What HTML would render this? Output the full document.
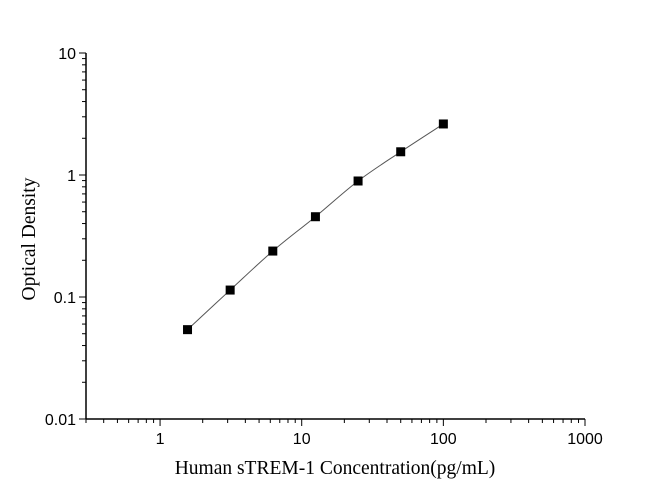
<!DOCTYPE html>
<html><head><meta charset="utf-8"><style>
body{margin:0;background:#fff;}
svg text{font-family:"Liberation Serif",serif;}
svg text.tick{font-family:"Liberation Sans",sans-serif;}
</style></head><body>
<svg id="chart" width="668" height="497" xmlns="http://www.w3.org/2000/svg">
<g id="axes"></g>
<path id="curve" fill="none" stroke="#555" stroke-width="1"/>
<g id="points"></g>
<text x="335" y="474" text-anchor="middle" font-size="19.5">Human sTREM-1 Concentration(pg/mL)</text>
<text transform="translate(35,239) rotate(-90)" text-anchor="middle" font-size="19.5">Optical Density</text>
</svg>
<script>
const concentrations=[1.5625,3.125,6.25,12.5,25,50,100];
const odValues=[0.054,0.114,0.238,0.455,0.893,1.55,2.62];
const xTickLabels=["1","10","100","1000"];
const yTickLabels=["0.01","0.1","1","10"];
const X0=86,X1=585,Y0=419,Y1=53;
const xMinLog=Math.log10(0.3),xMaxLog=3,yMinLog=-2,yMaxLog=1;
const sx=v=>X0+(Math.log10(v)-xMinLog)/(xMaxLog-xMinLog)*(X1-X0);
const sy=v=>Y0-(Math.log10(v)-yMinLog)/(yMaxLog-yMinLog)*(Y0-Y1);
const NS="http://www.w3.org/2000/svg";
const axes=document.getElementById('axes');
function mk(tag,attrs,parent){const e=document.createElementNS(NS,tag);for(const k in attrs)e.setAttribute(k,attrs[k]);parent.appendChild(e);return e;}
let l=mk('line',{x1:X0,y1:Y0,x2:X1,y2:Y0,stroke:'#000','stroke-width':1.5},axes);


l=mk('line',{x1:X0,y1:Y0,x2:X0,y2:Y1,stroke:'#000','stroke-width':1.5},axes);


for(let d=-1;d<=3;d++){for(let m=1;m<=9;m++){const v=m*Math.pow(10,d);if(v<0.3||v>1000)continue;const x=sx(v);const major=m===1;
const t=mk('line',{x1:x,y1:Y0,x2:x,y2:Y0+(major?7:4),stroke:'#000','stroke-width':1},axes);

}}
xTickLabels.forEach(s=>{const t=mk('text',{class:'tick',x:sx(+s),y:Y0+25,'text-anchor':'middle','font-size':16,fill:'#000'},axes);t.textContent=s;

});
for(let d=-2;d<=1;d++){for(let m=1;m<=9;m++){const v=m*Math.pow(10,d);if(v>10)continue;const y=sy(v);const major=m===1;
const t=mk('line',{x1:X0,y1:y,x2:X0-(major?7:4),y2:y,stroke:'#000','stroke-width':1},axes);

}}
yTickLabels.forEach(s=>{const t=mk('text',{class:'tick',x:X0-10,y:sy(+s)+6,'text-anchor':'end','font-size':16,fill:'#000'},axes);t.textContent=s;

});
const P=concentrations.map((c,i)=>[sx(c),sy(odValues[i])]);
let d=`M${P[0][0]},${P[0][1]}`;
for(let i=0;i<P.length-1;i++){const p0=P[Math.max(i-1,0)],p1=P[i],p2=P[i+1],p3=P[Math.min(i+2,P.length-1)];
d+=` C${p1[0]+(p2[0]-p0[0])/6},${p1[1]+(p2[1]-p0[1])/6} ${p2[0]-(p3[0]-p1[0])/6},${p2[1]-(p3[1]-p1[1])/6} ${p2[0]},${p2[1]}`;}
document.getElementById('curve').setAttribute('d',d);
const pts=document.getElementById('points');
P.forEach(p=>{const r=mk('rect',{x:p[0]-4.5,y:p[1]-4.5,width:9,height:9,fill:'#000'},pts);

});
</script>
</body></html>
